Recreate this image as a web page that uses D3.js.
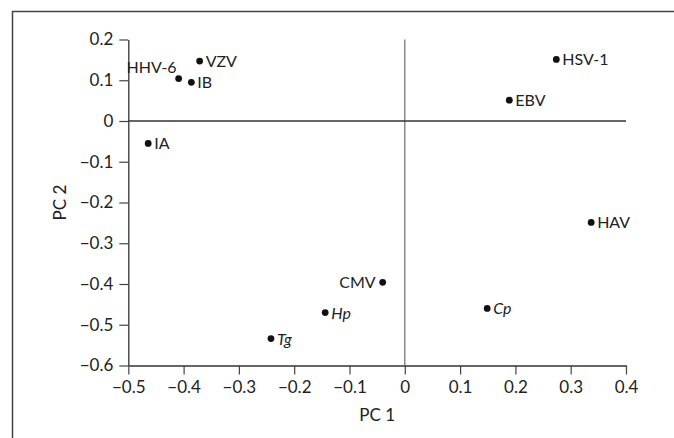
<!DOCTYPE html>
<html>
<head>
<meta charset="utf-8">
<script src="https://cdn.jsdelivr.net/npm/d3@7"></script>
<style>
  html, body { margin: 0; padding: 0; background: #fff; }
  svg { display: block; }
  text { font-family: Lato, "Liberation Sans", sans-serif; fill: #222; }
</style>
</head>
<body>
<svg id="chart" width="674" height="438"></svg>
<script>
// Data
const names   = ["VZV", "HHV-6", "IB", "IA", "HSV-1", "EBV", "HAV", "CMV", "Hp", "Cp", "Tg"];
const pc1     = [-0.371, -0.409, -0.386, -0.464, 0.274, 0.189, 0.337, -0.040, -0.144, 0.149, -0.242];
const pc2     = [0.147, 0.104, 0.095, -0.055, 0.151, 0.051, -0.249, -0.396, -0.470, -0.460, -0.534];
const italic  = [false, false, false, false, false, false, false, false, true, true, true];
const labelSide = ["right", "above-left", "right", "right", "right", "right", "right", "left", "right", "right", "right"];
const xTicks  = [-0.5, -0.4, -0.3, -0.2, -0.1, 0, 0.1, 0.2, 0.3, 0.4];
const yTicks  = [0.2, 0.1, 0, -0.1, -0.2, -0.3, -0.4, -0.5, -0.6];
const xTitle  = "PC 1";
const yTitle  = "PC 2";

(function () {
const svg = d3.select("#chart");
const pL = 128.3, pR = 626, pT = 39.5, pB = 365.5;

const x = d3.scaleLinear().domain([-0.5, 0.4]).range([pL, pR]);
const y = d3.scaleLinear().domain([-0.6, 0.2]).range([pB, pT]);

const fmt = d => d === 0 ? "0" : (d < 0 ? "\u2212" : "") + Math.abs(d).toFixed(1);

// frame
svg.append("path")
  .attr("d", `M12.5,438 V11.5 H674`)
  .attr("fill", "none").attr("stroke", "#444").attr("stroke-width", 1.5);

// zero lines
svg.append("line")
  .attr("x1", x(0)).attr("x2", x(0)).attr("y1", y(0.2)).attr("y2", y(-0.6))
  .attr("stroke", "#777").attr("stroke-width", 1.3);
svg.append("line")
  .attr("x1", x(-0.5)).attr("x2", x(0.4)).attr("y1", y(0)).attr("y2", y(0))
  .attr("stroke", "#333").attr("stroke-width", 1.3);

// axes
const xAxis = svg.append("g")
  .attr("transform", `translate(0,${pB})`)
  .call(d3.axisBottom(x).tickValues(xTicks).tickFormat(fmt).tickSize(9).tickPadding(6).tickSizeOuter(0));
const yAxis = svg.append("g")
  .attr("transform", `translate(${pL},0)`)
  .call(d3.axisLeft(y).tickValues(yTicks).tickFormat(fmt).tickSize(9).tickPadding(6).tickSizeOuter(0));

[xAxis, yAxis].forEach(g => {
  g.select(".domain").attr("stroke", "#333").attr("stroke-width", 1.3);
  g.selectAll(".tick line").attr("stroke", "#444").attr("stroke-width", 1.2);
  g.selectAll(".tick text").attr("font-size", 17).attr("fill", "#222")
    .style("font-family", "Lato, 'Liberation Sans', sans-serif");
});

// titles
svg.append("text")
  .attr("x", (pL + pR) / 2).attr("y", 421)
  .attr("text-anchor", "middle").attr("font-size", 17).text(xTitle);
svg.append("text")
  .attr("transform", `translate(66,${(pT + pB) / 2}) rotate(-90)`)
  .attr("text-anchor", "middle").attr("font-size", 17).text(yTitle);

// points
const data = names.map((n, i) => ({ n, x: pc1[i], y: pc2[i], it: italic[i], side: labelSide[i] }));
svg.append("g").selectAll("circle").data(data).join("circle")
  .attr("cx", d => x(d.x)).attr("cy", d => y(d.y)).attr("r", 3.4).attr("fill", "#111");

svg.append("g").selectAll("text").data(data).join("text")
  .attr("x", d => d.side === "right" ? x(d.x) + 6 : (d.side === "left" ? x(d.x) - 7 : x(d.x) - 2))
  .attr("y", d => d.side === "above-left" ? y(d.y) - 6 : y(d.y) + 6)
  .attr("text-anchor", d => d.side === "right" ? "start" : "end")
  .attr("font-size", 16)
  .attr("font-style", d => d.it ? "italic" : "normal")
  .text(d => d.n);
})();
</script>
</body>
</html>
